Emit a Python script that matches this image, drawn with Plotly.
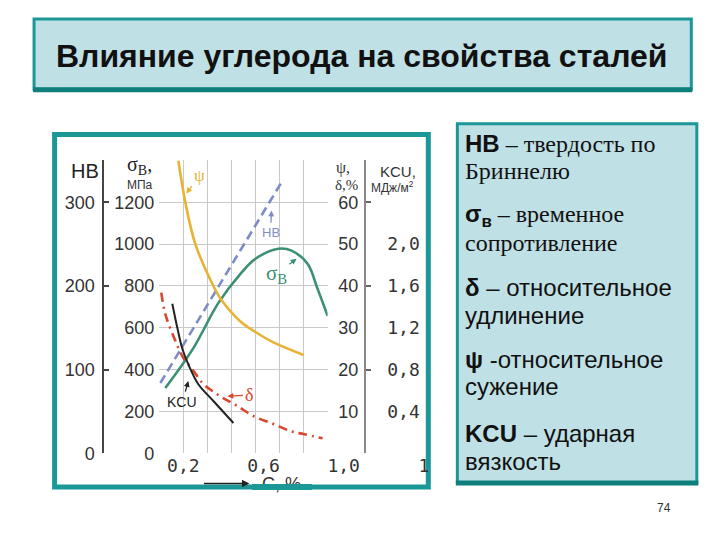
import plotly.graph_objects as go

# ---------------- data ----------------
carbon_psi = [0.175, 0.21, 0.26, 0.35, 0.385, 0.485, 0.56, 0.65, 0.80]
psi_pct = [70, 60, 50, 40, 37, 31.5, 29, 26.5, 23.5]

carbon_hb = [0.085, 0.69]
hb_values = [84, 324]

carbon_sigma = [0.11, 0.25, 0.375, 0.485, 0.56, 0.675, 0.74, 0.82, 0.87, 0.92]
sigma_mpa = [312, 503, 719, 858, 930, 978, 969, 906, 786, 657]

carbon_delta = [0.09, 0.11, 0.16, 0.20, 0.245, 0.295, 0.345, 0.41, 0.47, 0.55, 0.65, 0.735, 0.80, 0.895]
delta_pct = [38.4, 33.3, 26.9, 22.8, 20.1, 16.8, 14.9, 12.9, 11.3, 8.9, 7.0, 5.3, 4.6, 3.6]

carbon_kcu = [0.145, 0.17, 0.195, 0.225, 0.275, 0.35, 0.45]
kcu_values = [1.43, 1.20, 1.00, 0.85, 0.66, 0.50, 0.29]

sigma_ticks = [0, 200, 400, 600, 800, 1000, 1200]
hb_ticks = [0, 100, 200, 300]
pct_ticks = [10, 20, 30, 40, 50, 60]
pct_tickmarks = [0, 20, 40, 60]
kcu_ticks = [0.4, 0.8, 1.2, 1.6, 2.0]
kcu_ticklabels = ["0,4", "0,8", "1,2", "1,6", "2,0"]
x_tickvals = [0.2, 0.6, 1.0, 1.4]
x_ticklabels = ["0,2", "0,6", "1,0", "1"]

legend_lines = [
    '<b>HB</b><span style="font-family:Liberation Serif"> – твердость по</span>',
    '<span style="font-family:Liberation Serif">Бриннелю</span>',
    '<b>σ<sub>в</sub></b><span style="font-family:Liberation Serif"> – временное</span>',
    '<span style="font-family:Liberation Serif">сопротивление</span>',
    '<b>δ</b> – относительное',
    'удлинение',
    '<b>ψ</b> -относительное',
    'сужение',
    '<b>KCU</b> – ударная',
    'вязкость',
]
legend_y = [143, 171, 215, 242, 287, 315, 358, 385, 432, 460]

title_text = "Влияние углерода на свойства сталей"

# ---------------- helpers (window pixel -> paper) ----------------
# page body margin plus a small measured scale of the photographed page
OFF = 8
SX, SY = 0.991, 0.978
W, H = 720 - 2 * OFF, 540 - 2 * OFF
def px(x):
    return ((x - OFF) / SX) / W
def py(y):
    return 1 - ((y - OFF) / SY) / H

SANS = "Liberation Sans, Arial, sans-serif"
SERIF = "Liberation Serif, Times New Roman, serif"
MONO = "DejaVu Sans Mono, monospace"
TEAL = "#1a9796"
TEAL_DARK = "#0f7f7e"
BOX_FILL = "#bfe0e5"
GRID = "#c9c9c9"

C_PSI = "#e8b233"
C_HB = "#7f8bc9"
C_SIG = "#3b8f72"
C_DEL = "#d8472e"
C_KCU = "#222222"

fig = go.Figure()

fig.add_trace(go.Scatter(x=carbon_psi, y=psi_pct, xaxis="x", yaxis="y3", mode="lines",
                         line=dict(color=C_PSI, width=2.6, shape="spline"), showlegend=False, hoverinfo="skip"))
fig.add_trace(go.Scatter(x=carbon_hb, y=hb_values, xaxis="x", yaxis="y2", mode="lines",
                         line=dict(color=C_HB, width=2.6, dash="9px,5px"), showlegend=False, hoverinfo="skip"))
fig.add_trace(go.Scatter(x=carbon_sigma, y=sigma_mpa, xaxis="x", yaxis="y", mode="lines",
                         line=dict(color=C_SIG, width=2.6, shape="spline"), showlegend=False, hoverinfo="skip"))
fig.add_trace(go.Scatter(x=carbon_delta, y=delta_pct, xaxis="x", yaxis="y4", mode="lines",
                         line=dict(color=C_DEL, width=2.6, shape="spline", dash="9px,5px,2px,5px"),
                         showlegend=False, hoverinfo="skip"))
fig.add_trace(go.Scatter(x=carbon_kcu, y=kcu_values, xaxis="x", yaxis="y5", mode="lines",
                         line=dict(color=C_KCU, width=2, shape="spline"), showlegend=False, hoverinfo="skip"))
# carrier trace so the label-only carbon axis is drawn
fig.add_trace(go.Scatter(x=x_tickvals, y=[None] * len(x_tickvals), xaxis="x2", yaxis="y6",
                         mode="lines", showlegend=False, hoverinfo="skip"))

ydom = [py(452), py(160)]

fig.update_layout(
    width=W, height=H,
    margin=dict(l=0, r=0, t=0, b=0),
    paper_bgcolor="white", plot_bgcolor="rgba(0,0,0,0)",
    font=dict(family=SANS, color="#333333", size=18),
    showlegend=False,
    xaxis=dict(domain=[px(159), px(327)], range=[0.08, 0.92], anchor="y",
               tick0=0.08, dtick=0.12, showticklabels=False, ticks="",
               showgrid=True, gridcolor=GRID, gridwidth=1, zeroline=False, showline=False),
    xaxis2=dict(domain=[px(143), px(423)], range=[0, 1.4], anchor="free", position=py(452),
                tickvals=x_tickvals, ticktext=x_ticklabels, ticks="", showgrid=False,
                zeroline=False, showline=False, tickfont=dict(family=MONO, size=18, color="#333"),
                ticklabelstandoff=0),
    yaxis=dict(domain=ydom, range=[0, 1400], tickvals=sigma_ticks, ticks="",
               showgrid=True, gridcolor=GRID, gridwidth=1, zeroline=False, showline=False,
               ticklabelstandoff=4, tickfont=dict(size=18, color="#333")),
    yaxis2=dict(overlaying="y", side="left", anchor="free", position=px(103),
                range=[0, 350], tickvals=hb_ticks, ticks="inside", ticklen=5, tickwidth=1.5,
                tickcolor="#444", showline=True, linecolor="#444", linewidth=1.5,
                showgrid=False, zeroline=False, ticklabelstandoff=4,
                tickfont=dict(size=18, color="#333")),
    yaxis3=dict(overlaying="y", side="left", anchor="free", position=px(364),
                range=[0, 70], tickvals=pct_ticks, ticks="", showline=True,
                linecolor="#888", linewidth=1.5, showgrid=False, zeroline=False,
                ticklabelstandoff=2, tickfont=dict(size=18, color="#333")),
    yaxis4=dict(overlaying="y", side="left", anchor="free", position=px(364),
                range=[0, 70], tickvals=pct_tickmarks, ticks="inside", ticklen=5,
                tickwidth=1.5, tickcolor="#666", showticklabels=False, showline=False,
                showgrid=False, zeroline=False),
    yaxis5=dict(overlaying="y", side="left", anchor="free", position=px(419),
                range=[0, 2.8], tickvals=kcu_ticks, ticktext=kcu_ticklabels, ticks="",
                showline=False, showgrid=False, zeroline=False, ticklabelstandoff=0,
                tickfont=dict(family=MONO, size=18, color="#333")),
    yaxis6=dict(domain=ydom, range=[0, 1], visible=False),
)

shapes = []
# title box
shapes.append(dict(type="rect", xref="paper", yref="paper", x0=px(34), x1=px(690), y0=py(89), y1=py(19),
                   fillcolor=BOX_FILL, line=dict(color=TEAL, width=3), layer="below"))
shapes.append(dict(type="rect", xref="paper", yref="paper", x0=px(33), x1=px(691), y0=py(92), y1=py(87),
                   fillcolor=TEAL_DARK, line=dict(width=0), layer="below"))
# chart frame
shapes.append(dict(type="rect", xref="paper", yref="paper", x0=px(54.5), x1=px(427.5), y0=py(485.5), y1=py(134),
                   fillcolor="white", line=dict(color=TEAL, width=5), layer="below"))
# legend box
shapes.append(dict(type="rect", xref="paper", yref="paper", x0=px(456.5), x1=px(695.5), y0=py(481), y1=py(123.5),
                   fillcolor=BOX_FILL, line=dict(color=TEAL, width=3), layer="below"))
shapes.append(dict(type="rect", xref="paper", yref="paper", x0=px(455), x1=px(697), y0=py(484), y1=py(479),
                   fillcolor=TEAL_DARK, line=dict(width=0), layer="below"))
fig.update_layout(shapes=shapes)

ann = []
def text(x, y, t, size, color="#222", family=SANS, xanchor="center", yanchor="middle"):
    ann.append(dict(x=px(x), y=py(y), xref="paper", yref="paper", text=t, showarrow=False,
                    font=dict(size=size, color=color, family=family), xanchor=xanchor, yanchor=yanchor))

def arrow_label(tx, ty, hx, hy, t, size, color, family):
    ann.append(dict(x=px(hx), y=py(hy), xref="paper", yref="paper", ax=tx - hx, ay=ty - hy,
                    axref="pixel", ayref="pixel", text=t, showarrow=True, arrowhead=2,
                    arrowsize=0.9, arrowwidth=1.3, arrowcolor=color, standoff=0, startstandoff=1,
                    font=dict(size=size, color=color, family=family)))

# title
text(361, 56, "<b>" + title_text + "</b>", 32, "#111")

# axis headers
text(85, 171, "HB", 20, "#222")
text(139, 165, "σ<sub>В</sub>,", 20, "#222", SERIF)
text(140, 184, "МПа", 12, "#333")
text(342, 168, "ψ,", 16, "#333", SERIF)
text(346, 184, "δ,%", 15, "#333", SERIF)
text(397, 171, "KCU,", 15, "#333")
text(392, 186, "МДж/м<sup>2</sup>", 12, "#333")

# curve labels
arrow_label(199, 175, 186, 193, "ψ", 17, C_PSI, SERIF)
arrow_label(270, 232, 271, 210, "HB", 13, C_HB, SANS)
arrow_label(276, 273, 296, 258, "σ<sub>В</sub>", 21, C_SIG, SERIF)
arrow_label(249, 394, 227, 395, "δ", 18, C_DEL, SERIF)
arrow_label(182, 401, 188, 380, "KCU", 14, "#222", SANS)

# x-axis direction arrow and title (title partly hidden by the frame)
ann.append(dict(x=px(249), y=py(482), xref="paper", yref="paper", ax=-47, ay=0,
                axref="pixel", ayref="pixel", text="", showarrow=True, arrowhead=2,
                arrowsize=1, arrowwidth=1.5, arrowcolor="#222"))
text(281, 483, "C, %", 18, "#333")
# frame bottom strip redrawn above the axis title
ann.append(dict(x=px(281), y=py(483), xref="paper", yref="paper", xanchor="center", yanchor="top",
                text=" ", showarrow=False, width=60, height=6, bgcolor=TEAL, borderpad=0,
                borderwidth=0, font=dict(size=2)))

# legend text
for t, yy in zip(legend_lines, legend_y):
    text(462, yy, t, 24, "#111", SANS, xanchor="left")

# page number
text(663, 507, "74", 12, "#333")

fig.update_layout(annotations=ann)
fig.write_html("out.html")
